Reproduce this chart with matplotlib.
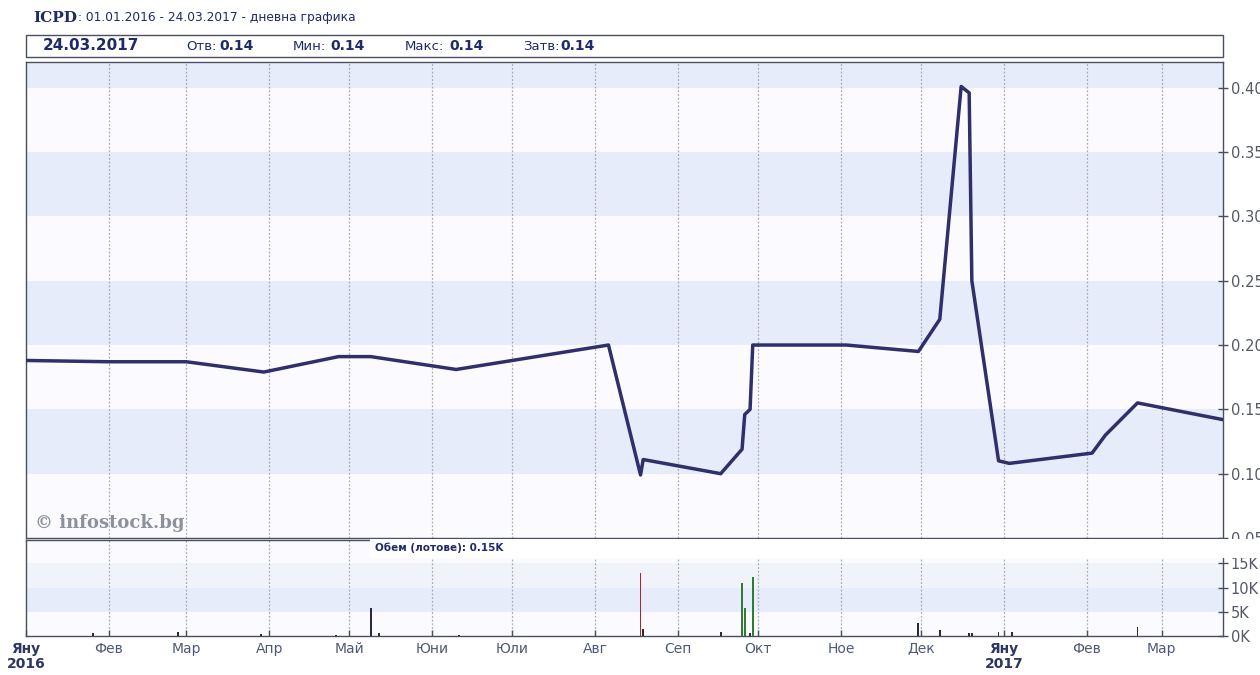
import matplotlib
matplotlib.use('Agg')
import matplotlib.pyplot as plt
from matplotlib.patches import Rectangle
from datetime import datetime

# ---------------- data ----------------
price_dates = ['2016-01-01', '2016-02-01', '2016-03-01', '2016-03-30', '2016-04-27',
               '2016-05-09', '2016-06-10', '2016-08-06', '2016-08-18', '2016-08-19',
               '2016-09-17', '2016-09-25', '2016-09-26', '2016-09-28', '2016-09-29',
               '2016-11-03', '2016-11-30', '2016-12-08', '2016-12-16', '2016-12-19',
               '2016-12-20', '2016-12-30', '2017-01-03', '2017-02-03', '2017-02-08',
               '2017-02-20', '2017-03-24']
price_values = [0.188, 0.187, 0.187, 0.179, 0.191,
                0.191, 0.181, 0.200, 0.099, 0.111,
                0.100, 0.119, 0.146, 0.150, 0.200,
                0.200, 0.195, 0.220, 0.401, 0.396,
                0.250, 0.110, 0.108, 0.116, 0.130,
                0.155, 0.142]

vol_dates = ['2016-01-26', '2016-02-27', '2016-03-29', '2016-04-26', '2016-05-09',
             '2016-05-12', '2016-06-11', '2016-08-18', '2016-08-19', '2016-09-17',
             '2016-09-25', '2016-09-26', '2016-09-28', '2016-09-29', '2016-11-30',
             '2016-12-08', '2016-12-19', '2016-12-20', '2016-12-30', '2017-01-04',
             '2017-02-20']
vol_values = [700, 900, 500, 300, 5700,
              700, 300, 12900, 1500, 800,
              10900, 5700, 700, 12100, 2600,
              1200, 600, 600, 800, 800,
              1800]
vol_dir = ['n', 'n', 'n', 'n', 'n',
           'n', 'n', 'd', 'n', 'n',
           'u', 'u', 'n', 'u', 'n',
           'n', 'n', 'n', 'n', 'n',
           'n']

month_starts = ['2016-01-01', '2016-02-01', '2016-03-01', '2016-04-01', '2016-05-01',
                '2016-06-01', '2016-07-01', '2016-08-01', '2016-09-01', '2016-10-01',
                '2016-11-01', '2016-12-01', '2017-01-01', '2017-02-01', '2017-03-01']
month_labels = ['Яну\n2016', 'Фев', 'Мар', 'Апр', 'Май', 'Юни', 'Юли', 'Авг',
                'Сеп', 'Окт', 'Ное', 'Дек', 'Яну\n2017', 'Фев', 'Мар']

price_ticks = [0.05, 0.10, 0.15, 0.20, 0.25, 0.30, 0.35, 0.40]
price_tick_labels = ['0.05', '0.10', '0.15', '0.20', '0.25', '0.30', '0.35', '0.40']
vol_ticks = [0, 5000, 10000, 15000]
vol_tick_labels = ['0K', '5K', '10K', '15K']

ticker = 'ICPD'
period_text = ': 01.01.2016 - 24.03.2017 - дневна графика'
info_parts = [('24.03.2017', True), ('Отв:', False), ('0.14', True), ('Мин:', False),
              ('0.14', True), ('Макс:', False), ('0.14', True), ('Затв:', False),
              ('0.14', True)]
volume_text = 'Обем (лотове): 0.15K'
watermark = '© infostock.bg'

# ---------------- helpers ----------------
W, H = 1260, 675
def d(s):
    return datetime.strptime(s, '%Y-%m-%d')

pd_ = [d(s) for s in price_dates]
vd_ = [d(s) for s in vol_dates]
ms_ = [d(s) for s in month_starts]
x0, x1 = datetime(2016, 1, 1), datetime(2017, 3, 24)

navy = '#1f2a6b'
line_col = '#2e2f6b'
band_blue = '#e6ecf9'
band_pale = '#f1f3fb'
band_white = '#fbfbff'
grid_col = '#a9abbd'
spine_col = '#4a4f60'
tick_col = '#555866'

plt.rcParams['font.family'] = ['DejaVu Sans']
fig = plt.figure(figsize=(12.6, 6.75), dpi=100)
fig.patch.set_facecolor('white')

L, R = 26, 1223
ax = fig.add_axes([L / W, 1 - 538 / H, (R - L) / W, (538 - 62) / H])
axv = fig.add_axes([L / W, 1 - 636 / H, (R - L) / W, (636 - 540) / H])

# ---------------- main price panel ----------------
ax.set_facecolor(band_white)
for lo in [0.10, 0.20, 0.30, 0.40]:
    ax.axhspan(lo, lo + 0.05, color=band_blue, lw=0, zorder=0)
ax.set_xlim(x0, x1)
ax.set_ylim(0.05, 0.42)
for m in ms_[1:]:
    ax.axvline(m, color=grid_col, lw=0.9, ls=(0, (1.5, 1.5)), zorder=1)
ax.plot(pd_, price_values, color=line_col, lw=2.5, zorder=3, solid_joinstyle='round')
ax.yaxis.tick_right()
ax.set_yticks(price_ticks)
ax.set_yticklabels(price_tick_labels)
ax.tick_params(axis='y', direction='inout', length=7, width=1, color=spine_col,
               labelsize=10.5, labelcolor=tick_col, pad=2)
ax.set_xticks([])
for s in ax.spines.values():
    s.set_color(spine_col)
    s.set_linewidth(1)

# ---------------- volume panel ----------------
axv.set_facecolor(band_white)
axv.axhspan(5000, 10000, color=band_blue, lw=0, zorder=0)
axv.axhspan(10000, 15000, color=band_pale, lw=0, zorder=0)
axv.set_xlim(x0, x1)
axv.set_ylim(0, 19800)
for m in ms_[1:]:
    axv.axvline(m, color=grid_col, lw=0.9, ls=(0, (1.5, 1.5)), zorder=1)
col_map = {'n': '#2a2a3a', 'd': '#b3242a', 'u': '#2f7d32'}
axv.bar(vd_, vol_values, width=0.7, color=[col_map[c] for c in vol_dir], zorder=3, lw=0)
axv.yaxis.tick_right()
axv.set_yticks(vol_ticks)
axv.set_yticklabels(vol_tick_labels)
axv.tick_params(axis='y', direction='inout', length=7, width=1, color=spine_col,
                labelsize=10.5, labelcolor=tick_col, pad=2)
axv.set_xticks(ms_)
axv.set_xticklabels(month_labels)
axv.tick_params(axis='x', direction='in', length=4, width=1, color=spine_col,
                labelsize=10, labelcolor='#4f5878', pad=4)
for lab in axv.get_xticklabels():
    if 'Яну' in lab.get_text():
        lab.set_fontweight('bold')
        lab.set_color('#2c3563')
        lab.set_linespacing(1.1)
for s in axv.spines.values():
    s.set_color(spine_col)
    s.set_linewidth(1)

# ---------------- overlay texts / boxes ----------------
def fx(px):
    return px / W
def fy(py):
    return 1 - py / H

fig.text(fx(33), fy(18), ticker, fontsize=11, fontweight='bold', color=navy,
         family=['DejaVu Serif'], va='center', ha='left')
fig.text(fx(78), fy(18), period_text, fontsize=8.8,
         color=navy, va='center', ha='left')

fig.add_artist(Rectangle((fx(26), fy(57)), (1223 - 26) / W, 22 / H, transform=fig.transFigure,
                         facecolor='white', edgecolor=spine_col, lw=1, zorder=4))
info_x = [43, 186, 219, 293, 330, 405, 449, 523, 560]
for i, (px, (t, b)) in enumerate(zip(info_x, info_parts)):
    size = 11 if i == 0 else (10 if b else 9.5)
    fig.text(fx(px), fy(46), t, fontsize=size,
             fontweight='bold' if b else 'normal',
             color=navy, va='center', ha='left', zorder=5)

fig.text(fx(35), fy(523), watermark, fontsize=13, fontweight='bold',
         family=['DejaVu Serif'], color='#8d919c', va='center', ha='left', zorder=5)

fig.add_artist(Rectangle((fx(370), fy(558)), (1260 - 370) / W, 19 / H, transform=fig.transFigure,
                         facecolor='white', edgecolor='none', zorder=5))
fig.text(fx(375), fy(548), volume_text, fontsize=7.5, fontweight='bold',
         color=navy, va='center', ha='left', zorder=6)

fig.savefig('out.png', dpi=100, facecolor='white')
